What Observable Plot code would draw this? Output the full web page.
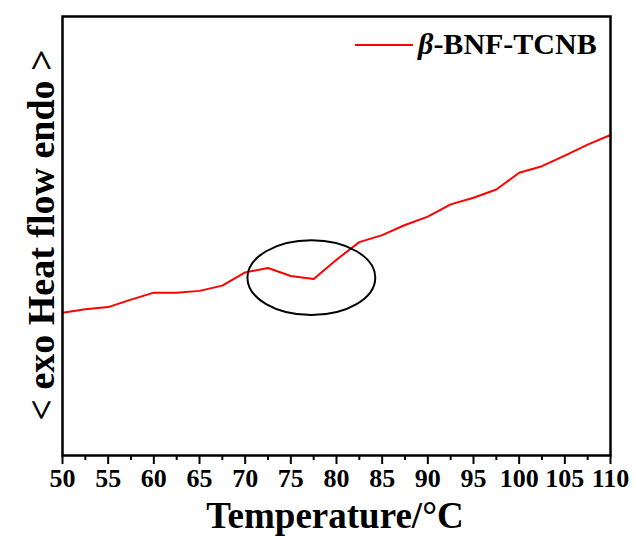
<!DOCTYPE html>
<html><head><meta charset="utf-8">
<script src="https://cdn.jsdelivr.net/npm/d3@7"></script>
<script src="https://cdn.jsdelivr.net/npm/@observablehq/plot@0.6"></script>
<style>body{margin:0;background:#fff;} svg{display:block;}</style>
</head><body><div id="chart"></div>
<script>
const temperature = [50, 52.5, 55, 57.5, 60, 62.5, 65, 67.5, 70, 72.5, 75, 77.5, 80, 82.5, 85, 87.5, 90, 92.5, 95, 97.5, 100, 102.5, 105, 107.5, 110];
const heatFlow = [32.5, 33.3, 33.8, 35.5, 37.1, 37.1, 37.5, 38.7, 41.7, 42.7, 40.9, 40.2, 44.6, 48.6, 50.2, 52.5, 54.4, 57.2, 58.7, 60.6, 64.4, 65.9, 68.3, 70.8, 73.0];
const majorTicks = [50, 55, 60, 65, 70, 75, 80, 85, 90, 95, 100, 105, 110];
const minorTicks = [52.5, 57.5, 62.5, 67.5, 72.5, 77.5, 82.5, 87.5, 92.5, 97.5, 102.5, 107.5];
const seriesName = "BNF-TCNB";
const xTitle = "Temperature/°C";
const yTitle = "< exo Heat flow endo >";
// annotation ellipse: center (temperature, heatFlow), radii in data units
const ellipseCenter = [77.3, 40.4];
const ellipseRadii = [7.0, 8.5];

const data = temperature.map((t, i) => ({t, v: heatFlow[i]}));
const W = 635, H = 536;
const font = "'Liberation Serif', 'Times New Roman', serif";

const plot = Plot.plot({
  width: W, height: H,
  marginLeft: 62, marginRight: 25, marginTop: 16, marginBottom: 81,
  style: {fontFamily: font, fontWeight: "bold", fontSize: "26px", color: "#000", background: "#fff"},
  x: {domain: [50, 110]},
  y: {domain: [0, 100], axis: null},
  marks: [
    Plot.axisX(minorTicks, {tickSize: 5, strokeWidth: 2, text: null, label: null}),
    Plot.axisX(majorTicks, {tickSize: 9, strokeWidth: 2, tickPadding: 4, label: null, fontSize: 26, fontWeight: "bold"}),
    Plot.line(data, {x: "t", y: "v", stroke: "#ff0000", strokeWidth: 2}),
    Plot.frame({stroke: "#000", strokeWidth: 2.5})
  ]
});
document.getElementById("chart").appendChild(plot);

const svg = d3.select(plot);
const sx = plot.scale("x"), sy = plot.scale("y");
// ellipse annotation
const cx = sx.apply(ellipseCenter[0]), cy = sy.apply(ellipseCenter[1]);
const rx = sx.apply(ellipseCenter[0] + ellipseRadii[0]) - cx;
const ry = cy - sy.apply(ellipseCenter[1] + ellipseRadii[1]);
svg.append("ellipse").attr("cx", cx).attr("cy", cy).attr("rx", rx).attr("ry", ry)
  .attr("fill", "none").attr("stroke", "#000").attr("stroke-width", 2);

// axis titles
svg.append("text").attr("x", 335).attr("y", 528).attr("text-anchor", "middle")
  .attr("font-family", font).attr("font-weight", "bold").attr("font-size", 37).attr("fill", "#000")
  .text(xTitle);
svg.append("text").attr("transform", "translate(54,235) rotate(-90)").attr("text-anchor", "middle")
  .attr("font-family", font).attr("font-weight", "bold").attr("font-size", 38).attr("fill", "#000")
  .text(yTitle);

// legend
svg.append("line").attr("x1", 355).attr("x2", 413).attr("y1", 45).attr("y2", 45)
  .attr("stroke", "#ff0000").attr("stroke-width", 2);
const lt = svg.append("text").attr("x", 418).attr("y", 54).attr("text-anchor", "start")
  .attr("font-family", font).attr("font-weight", "bold").attr("font-size", 30).attr("fill", "#000");
lt.append("tspan").attr("font-style", "italic").text("β");
lt.append("tspan").text("-" + seriesName);
</script></body></html>
